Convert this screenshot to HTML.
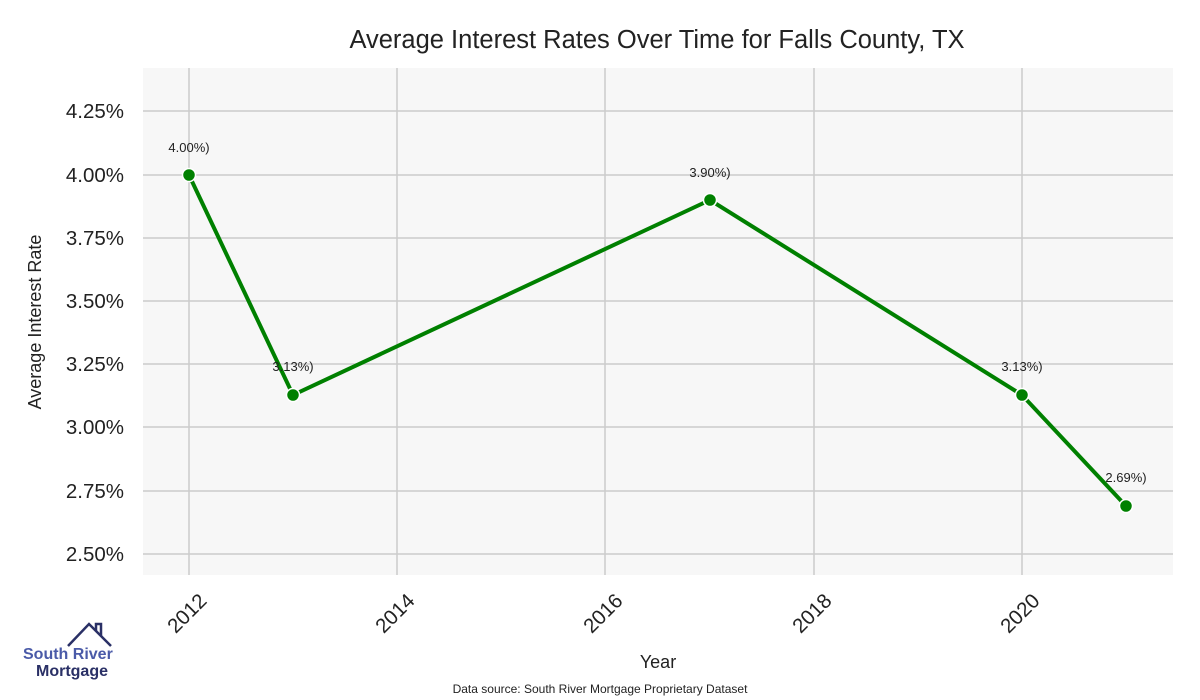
<!DOCTYPE html>
<html><head><meta charset="utf-8"><style>body{margin:0;background:#fff}svg{display:block}</style></head><body>
<svg width="1200" height="700" xmlns="http://www.w3.org/2000/svg" font-family="Liberation Sans, sans-serif">
<rect x="143" y="68" width="1030" height="507" fill="#f7f7f7"/>
<g stroke="#cccccc" stroke-width="1.5">
<line x1="143" x2="1173" y1="111" y2="111"/><line x1="143" x2="1173" y1="175" y2="175"/>
<line x1="143" x2="1173" y1="238" y2="238"/><line x1="143" x2="1173" y1="301" y2="301"/>
<line x1="143" x2="1173" y1="364" y2="364"/><line x1="143" x2="1173" y1="427" y2="427"/>
<line x1="143" x2="1173" y1="491" y2="491"/><line x1="143" x2="1173" y1="554" y2="554"/>
<line x1="189" x2="189" y1="68" y2="575"/><line x1="397" x2="397" y1="68" y2="575"/>
<line x1="605" x2="605" y1="68" y2="575"/><line x1="814" x2="814" y1="68" y2="575"/>
<line x1="1022" x2="1022" y1="68" y2="575"/>
</g>
<g font-size="20.5" fill="#222" text-anchor="end">
<text x="124" y="118">4.25%</text><text x="124" y="182">4.00%</text><text x="124" y="245">3.75%</text>
<text x="124" y="308">3.50%</text><text x="124" y="371">3.25%</text><text x="124" y="434">3.00%</text>
<text x="124" y="498">2.75%</text><text x="124" y="561">2.50%</text>
</g>
<g font-size="20.5" fill="#222" text-anchor="end">
<text transform="translate(208,602) rotate(-45)">2012</text>
<text transform="translate(416,602) rotate(-45)">2014</text>
<text transform="translate(624,602) rotate(-45)">2016</text>
<text transform="translate(833,602) rotate(-45)">2018</text>
<text transform="translate(1041,602) rotate(-45)">2020</text>
</g>
<text x="657" y="48" font-size="25.5" fill="#222" text-anchor="middle">Average Interest Rates Over Time for Falls County, TX</text>
<text x="658" y="668" font-size="18" fill="#222" text-anchor="middle">Year</text>
<text transform="translate(41,322) rotate(-90)" font-size="18" fill="#222" text-anchor="middle">Average Interest Rate</text>
<text x="600" y="693" font-size="12" fill="#222" text-anchor="middle">Data source: South River Mortgage Proprietary Dataset</text>
<polyline points="189,175 293,395 710,200 1022,395 1126,506" fill="none" stroke="#008000" stroke-width="4"/>
<g fill="#008000" stroke="#fff" stroke-width="1.5">
<circle cx="189" cy="175" r="6.5"/><circle cx="293" cy="395" r="6.5"/><circle cx="710" cy="200" r="6.5"/>
<circle cx="1022" cy="395" r="6.5"/><circle cx="1126" cy="506" r="6.5"/>
</g>
<g font-size="13" fill="#222" text-anchor="middle">
<text x="189" y="152">4.00%)</text><text x="293" y="371">3.13%)</text><text x="710" y="177">3.90%)</text>
<text x="1022" y="371">3.13%)</text><text x="1126" y="482">2.69%)</text>
</g>
<polyline points="68,646 89,624 111,646" fill="none" stroke="#2a3066" stroke-width="2.5"/>
<polyline points="96,631 96,624 101,624 101,636" fill="none" stroke="#2a3066" stroke-width="2.5"/>
<text x="23" y="659" font-size="16" font-weight="bold" fill="#4a5aa8">South River</text>
<text x="36" y="676" font-size="16" font-weight="bold" fill="#2a3066">Mortgage</text>
</svg>
</body></html>
